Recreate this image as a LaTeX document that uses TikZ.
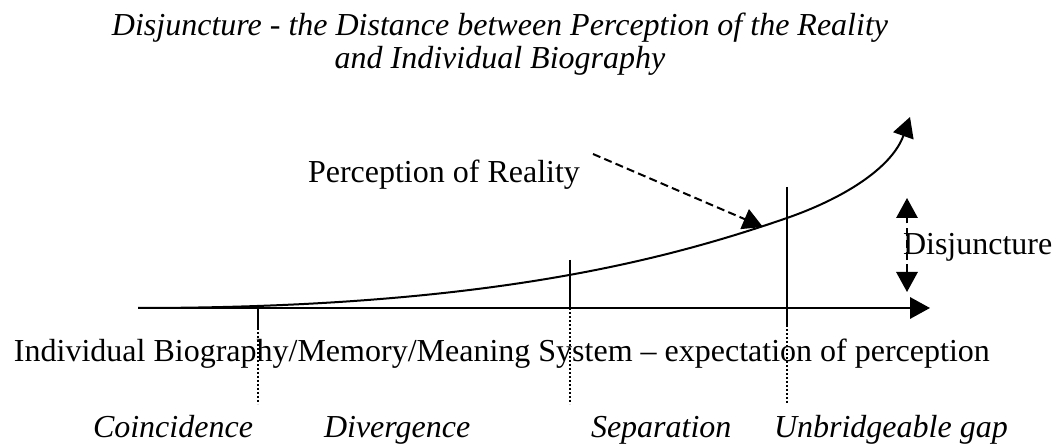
\documentclass[tikz,border=0pt]{standalone}
\usepackage{fontspec}
\setmainfont{Liberation Serif}
\usetikzlibrary{arrows.meta}
\tikzset{
  lbl/.style={inner sep=0pt,anchor=base west,font=\fontsize{12}{14}\selectfont},
  stage/.style={lbl,font=\fontsize{12}{14}\selectfont\itshape},
  headline/.style={inner sep=0pt,anchor=base,font=\fontsize{12}{14}\selectfont\itshape},
  tip/.style={-{Triangle[length=7.5pt,width=8pt]}},
  dashline/.style={dash pattern=on 3pt off 1.6pt},
  dotline/.style={line width=0.6pt,dash pattern=on 0.6pt off 0.9pt}
}

\begin{document}
\begin{tikzpicture}[x=0.375pt,y=-0.375pt,line width=0.75pt]
  \useasboundingbox (0,0) rectangle (1055,448);
  % title
  \node[headline] (title1) at (500,36) {Disjuncture - the Distance between Perception of the Reality};
  \node[headline] (title2) at (500,69) {and Individual Biography};

  % axis and curve
  \coordinate (origin) at (138,308);
  \coordinate (axisend) at (930,308);
  \coordinate (gap) at (787,218);
  \coordinate (curveend) at (910,117);
  \draw[tip,line width=0.85pt] (origin) -- (axisend);
  \draw[tip] (origin) .. controls (480,308) and (660,262) .. (gap)
    .. controls (850,196) and (893,165) .. (curveend);

  % stage markers
  \foreach \x/\top/\mid in {258/305/328, 570/260/308, 787/187/325} {
    \coordinate (top\x) at (\x,\top);
    \coordinate (mid\x) at (\x,\mid);
    \coordinate (bot\x) at (\x,404);
    \draw (top\x) -- (mid\x);
    \draw[dotline] (mid\x) -- (bot\x);
  }

  % perception of reality
  \node[lbl] (reality) at (307,183) {Perception of Reality};
  \coordinate (pointfrom) at (593,154);
  \coordinate (pointto) at (763,227);
  \draw[tip,dashline] (pointfrom) -- (pointto);

  % disjuncture
  \coordinate (disjtop) at (907,198);
  \coordinate (disjbot) at (907,292);
  \draw[dashline,{Triangle[length=7.5pt,width=8pt]}-{Triangle[length=7.5pt,width=8pt]}] (disjbot) -- (disjtop);
  \node[lbl] (disj) at (902,255) {Disjuncture};

  % axis label and stages
  \node[lbl] (biography) at (13,362) {Individual Biography/Memory/Meaning System -- expectation of perception};
  \node[stage] (coincide) at (92,438) {Coincidence};
  \node[stage] (diverge) at (323,438) {Divergence};
  \node[stage] (separate) at (590,438) {Separation};
  \node[stage] (unbridge) at (773,438) {Unbridgeable gap};
\end{tikzpicture}
\end{document}
